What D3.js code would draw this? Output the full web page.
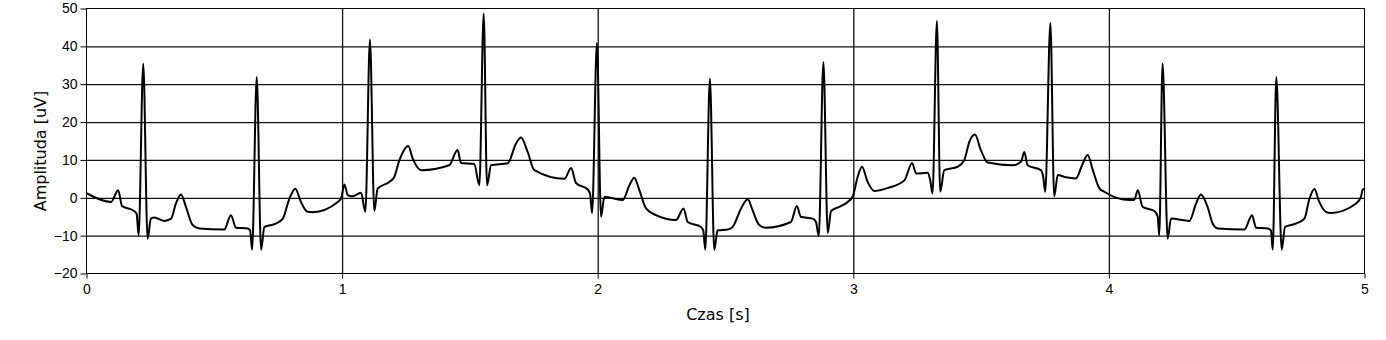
<!DOCTYPE html>
<html>
<head>
<meta charset="utf-8">
<script src="https://cdn.jsdelivr.net/npm/d3@7"></script>
<style>
  body { margin: 0; background: #fff; }
  svg { display: block; font-family: "DejaVu Sans", Verdana, sans-serif; }
  .axis text { font-size: 14px; fill: #000; }
  .axis path, .axis line { stroke: #000; }
  .grid line { stroke: #111; stroke-width: 1.3; }
  .grid path { display: none; }
</style>
</head>
<body>
<svg width="1386" height="340"></svg>
<script>
var timeS = [
  0.000, 0.096, 0.124, 0.139, 0.181, 0.196, 0.204, 0.222, 0.239, 0.252,
  0.265, 0.304, 0.331, 0.350, 0.370, 0.389, 0.415, 0.441, 0.539, 0.565,
  0.585, 0.631, 0.640, 0.648, 0.666, 0.683, 0.696, 0.741, 0.768, 0.794,
  0.817, 0.839, 0.865, 0.885, 0.983, 0.996, 1.009, 1.022, 1.039, 1.074,
  1.091, 1.109, 1.126, 1.139, 1.185, 1.204, 1.224, 1.259, 1.276, 1.309,
  1.419, 1.452, 1.465, 1.517, 1.537, 1.554, 1.567, 1.583, 1.648, 1.680,
  1.700, 1.726, 1.752, 1.870, 1.896, 1.915, 1.961, 1.970, 1.978, 1.997,
  2.013, 2.026, 2.045, 2.098, 2.124, 2.143, 2.163, 2.189, 2.228, 2.306,
  2.336, 2.352, 2.404, 2.413, 2.421, 2.439, 2.456, 2.469, 2.509, 2.528,
  2.561, 2.587, 2.606, 2.632, 2.658, 2.756, 2.779, 2.795, 2.841, 2.854,
  2.865, 2.883, 2.900, 2.913, 2.945, 2.978, 2.998, 3.017, 3.034, 3.056,
  3.082, 3.135, 3.200, 3.230, 3.246, 3.291, 3.301, 3.310, 3.327, 3.340,
  3.356, 3.408, 3.434, 3.454, 3.476, 3.499, 3.526, 3.624, 3.656, 3.669,
  3.682, 3.734, 3.743, 3.751, 3.771, 3.786, 3.800, 3.832, 3.871, 3.895,
  3.917, 3.937, 3.963, 3.982, 4.080, 4.099, 4.113, 4.132, 4.178, 4.191,
  4.197, 4.210, 4.230, 4.243, 4.315, 4.341, 4.360, 4.386, 4.406, 4.426,
  4.530, 4.560, 4.576, 4.621, 4.634, 4.641, 4.655, 4.676, 4.689, 4.732,
  4.765, 4.784, 4.804, 4.823, 4.849, 4.869, 4.967, 4.986, 4.993, 5.000
];
var amplitudeUV = [
  1.2, -1.1, 2.0, -2.2, -3.3, -4.2, -9.9, 35.5, -10.8, -5.5,
  -5.2, -6.1, -5.5, -1.5, 0.9, -2.4, -7.2, -8.1, -8.4, -4.6,
  -7.9, -8.1, -8.6, -13.7, 31.9, -13.7, -7.7, -6.8, -5.5, -0.2,
  2.4, -1.1, -3.7, -3.8, -1.1, -0.2, 3.5, 0.7, 0.4, 1.3,
  -3.7, 41.8, -3.5, 2.4, 4.2, 5.5, 9.9, 13.7, 10.4, 7.3,
  8.6, 12.6, 9.2, 8.9, 3.3, 48.7, 3.3, 8.6, 9.1, 14.3,
  15.9, 12.1, 7.3, 5.0, 7.9, 3.9, 2.2, 1.1, -4.0, 40.9,
  -5.0, 0.2, 0.1, -0.6, 3.3, 5.3, 2.0, -2.8, -4.6, -5.9,
  -2.8, -6.4, -7.7, -8.6, -13.7, 31.5, -13.8, -8.6, -8.4, -7.7,
  -2.8, -0.4, -3.3, -7.2, -7.9, -6.4, -2.2, -5.0, -5.5, -6.4,
  -10.1, 35.9, -9.3, -3.5, -2.4, -1.1, 0.4, 5.5, 8.2, 4.2,
  1.8, 2.6, 4.6, 9.2, 6.4, 6.6, 4.6, 1.1, 46.7, 1.6,
  7.3, 8.2, 9.9, 14.8, 16.7, 12.6, 9.3, 8.6, 9.5, 12.1,
  8.6, 7.3, 5.5, 1.6, 46.2, 0.4, 6.0, 5.4, 5.1, 8.6,
  11.3, 7.3, 2.5, 1.6, -0.6, -0.6, 2.0, -2.4, -3.5, -5.0,
  -9.9, 35.5, -10.8, -5.5, -6.1, -1.5, 0.9, -2.4, -6.8, -8.1,
  -8.4, -4.6, -7.9, -8.1, -8.6, -13.7, 31.9, -13.7, -7.7, -6.8,
  -5.5, -0.4, 2.3, -1.1, -3.7, -4.0, -1.5, 0.2, 2.2, 2.4
];

var xTicks = [0, 1, 2, 3, 4, 5];
var yTicks = [-20, -10, 0, 10, 20, 30, 40, 50];

var svg = d3.select('svg');

var plot = { l: 86.5, r: 1364.5, t: 8.5, b: 273.5 };

var xScale = d3.scaleLinear().domain([0, 5]).range([plot.l, plot.r]);
var yScale = d3.scaleLinear().domain([-20, 50]).range([plot.b, plot.t]);

// grid
svg.append('g').attr('class', 'grid')
    .attr('transform', `translate(${plot.l},0)`)
    .call(d3.axisLeft(yScale).tickValues(yTicks.slice(1, -1))
        .tickSize(-(plot.r - plot.l)).tickFormat(''));
svg.append('g').attr('class', 'grid')
    .attr('transform', `translate(0,${plot.b})`)
    .call(d3.axisBottom(xScale).tickValues(xTicks.slice(1, -1))
        .tickSize(-(plot.b - plot.t)).tickFormat(''));

// frame
svg.append('rect')
    .attr('x', plot.l).attr('y', plot.t)
    .attr('width', plot.r - plot.l).attr('height', plot.b - plot.t)
    .attr('fill', 'none').attr('stroke', '#000').attr('stroke-width', 1);

// axes
var yAxis = svg.append('g').attr('class', 'axis')
    .attr('transform', `translate(${plot.l},0)`)
    .call(d3.axisLeft(yScale).tickValues(yTicks).tickSize(6).tickPadding(3)
        .tickFormat(d3.format('d')));
var xAxis = svg.append('g').attr('class', 'axis')
    .attr('transform', `translate(0,${plot.b})`)
    .call(d3.axisBottom(xScale).tickValues(xTicks).tickSize(5).tickPadding(6)
        .tickFormat(d3.format('d')));
yAxis.select('.domain').remove();
xAxis.select('.domain').remove();

// signal
var points = timeS.map((t, i) => [t, amplitudeUV[i]]);
var line = d3.line()
    .x(d => xScale(d[0]))
    .y(d => yScale(d[1]))
    .curve(d3.curveMonotoneX);

svg.append('path')
    .datum(points)
    .attr('d', line)
    .attr('fill', 'none')
    .attr('stroke', '#000')
    .attr('stroke-width', 2)
    .attr('stroke-linejoin', 'round');

// titles
svg.append('text')
    .attr('x', 718).attr('y', 320)
    .attr('text-anchor', 'middle')
    .attr('font-size', 16)
    .text('Czas [s]');
svg.append('text')
    .attr('transform', 'translate(46,151) rotate(-90)')
    .attr('text-anchor', 'middle')
    .attr('font-size', 16)
    .text('Amplituda [uV]');
</script>
</body>
</html>
